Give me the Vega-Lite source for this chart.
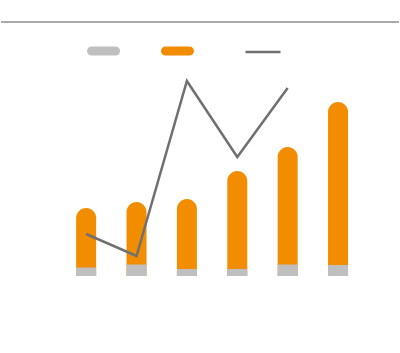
{
  "$schema": "https://vega.github.io/schema/vega-lite/v6.json",
  "width": 400,
  "height": 353,
  "autosize": {"type": "fit", "contains": "padding"},
  "padding": 0,
  "background": "white",
  "config": {"view": {"stroke": null}},
  "data": {
    "values": [
      {"cat": "1", "gray": 8.5, "total": 68, "line": 42},
      {"cat": "2", "gray": 11.5, "total": 74, "line": 20},
      {"cat": "3", "gray": 7, "total": 77, "line": 195},
      {"cat": "4", "gray": 7, "total": 105, "line": 119},
      {"cat": "5", "gray": 11.5, "total": 129, "line": 188},
      {"cat": "6", "gray": 11, "total": 174, "line": null}
    ]
  },
  "encoding": {
    "x": {
      "field": "cat",
      "type": "ordinal",
      "axis": null,
      "scale": {"paddingInner": 0.1, "paddingOuter": 1, "align": 0.62}
    }
  },
  "layer": [
    {
      "mark": {"type": "rule", "color": "#aaaaaa", "strokeWidth": 2},
      "encoding": {"x": null, "y": {"datum": 254, "type": "quantitative", "scale": {"domain": [-77, 276], "nice": false, "zero": false}, "axis": null}}
    },
    {
      "layer": [
        {
          "mark": {"type": "bar", "cornerRadiusTopLeft": 10, "cornerRadiusTopRight": 10, "width": 20},
          "encoding": {
            "y": {"field": "total", "type": "quantitative", "axis": null},
            "y2": {"datum": 0},
            "color": {
              "datum": "B",
              "type": "nominal",
              "scale": {"domain": ["A", "B"], "range": ["#bfbfbf", "#f28c00"]},
              "legend": {
                "orient": "none",
                "direction": "horizontal",
                "legendX": 86,
                "legendY": 34,
                "title": null,
                "padding": 0,
                "labelExpr": "''",
                "labelOffset": 0,
                "labelFontSize": 1,
                "columnPadding": 41,
                "symbolType": "M-0.727,-0.273L0.727,-0.273A0.273,0.273,0,0,1,0.727,0.273L-0.727,0.273A0.273,0.273,0,0,1,-0.727,-0.273Z",
                "symbolSize": 1089,
                "symbolOpacity": 1,
                "symbolStrokeWidth": 0
              }
            }
          }
        },
        {
          "mark": {"type": "bar", "width": 20},
          "encoding": {
            "y": {"field": "gray", "type": "quantitative", "axis": null},
            "y2": {"datum": 0},
            "color": {"datum": "A", "type": "nominal"}
          }
        }
      ]
    },
    {
      "mark": {"type": "line", "strokeWidth": 2.5},
      "encoding": {
        "y": {"field": "line", "type": "quantitative", "axis": null},
        "color": {
          "datum": "C",
          "type": "nominal",
          "scale": {"domain": ["C"], "range": ["#707070"]},
          "legend": {
            "orient": "none",
            "direction": "horizontal",
            "legendX": 243,
            "legendY": 33,
            "title": null,
            "padding": 0,
            "labelExpr": "''",
            "labelOffset": 0,
            "labelFontSize": 1,
            "symbolType": "stroke",
            "symbolSize": 1225,
            "symbolStrokeWidth": 2.5
          }
        }
      }
    }
  ],
  "resolve": {"scale": {"color": "independent"}}
}
